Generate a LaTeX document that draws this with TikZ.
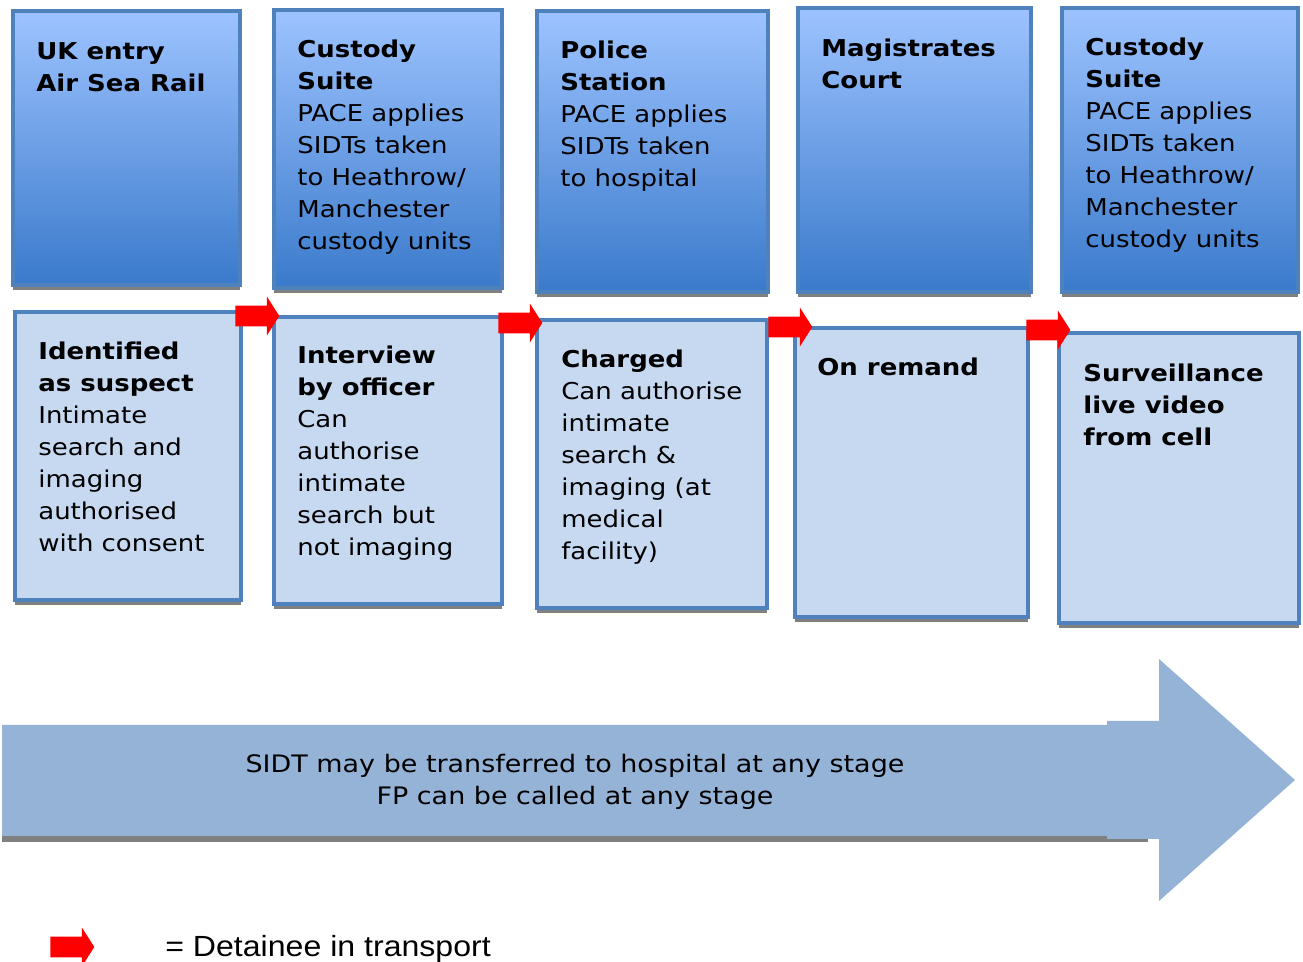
\documentclass[tikz,border=0pt]{standalone}
\usepackage{fontspec}
\setmainfont{DejaVu Sans}[FakeStretch=1.12]
\newfontfamily\legendfont{Liberation Sans}[FakeStretch=1.1]
\usetikzlibrary{shapes.arrows, shadows, fit}
\definecolor{boxline}{RGB}{79,129,189}
\definecolor{boxtop}{RGB}{157,195,255}
\definecolor{boxbottom}{RGB}{58,122,203}
\definecolor{boxpale}{RGB}{198,217,241}
\definecolor{bandblue}{RGB}{149,179,215}
\definecolor{shadowgrey}{RGB}{128,128,128}

\begin{document}
\begin{tikzpicture}
    [
        x=0.02cm, y=-0.02cm,
        place/.style = {draw=boxline, line width=1.9pt, inner sep=0pt, shape=rectangle, drop shadow={shadow xshift=0pt, shadow yshift=-0.11cm, opacity=1, fill=shadowgrey}},
        upper/.style = {place, top color=boxtop, bottom color=boxbottom},
        lower/.style = {place, fill=boxpale},
        info/.style = {anchor=north west, align=left, inner sep=0pt, font=\fontsize{13.2}{18.2}\selectfont},
        transfer/.style = {single arrow, fill=red, draw=none, minimum height=0.88cm, inner xsep=0pt, inner ysep=0.2cm, single arrow head extend=0.18cm, single arrow tip angle=115},
    ]

    \useasboundingbox (0,0) rectangle (1303,962);

    % where the detainee is held
    \node[upper, fit={(13,11) (240,285)}] (entry) {};
    \node[upper, fit={(274,10) (502,288)}] (suite) {};
    \node[upper, fit={(537,11) (768,292)}] (station) {};
    \node[upper, fit={(798,8) (1031,292)}] (court) {};
    \node[upper, fit={(1062,8) (1298,292)}] (suitetwo) {};

    \node[info] (entrytext) at (36,42) {\textbf{UK entry}\\\textbf{Air Sea Rail}};
    \node[info] (suitetext) at (297,40) {\textbf{Custody}\\\textbf{Suite}\\PACE applies\\SIDTs taken\\to Heathrow/\\Manchester\\custody units};
    \node[info] (stationtext) at (560,41) {\textbf{Police}\\\textbf{Station}\\PACE applies\\SIDTs taken\\to hospital};
    \node[info] (courttext) at (821,39) {\textbf{Magistrates}\\\textbf{Court}};
    \node[info] (suitetwotext) at (1085,38) {\textbf{Custody}\\\textbf{Suite}\\PACE applies\\SIDTs taken\\to Heathrow/\\Manchester\\custody units};

    % what may be done there
    \node[lower, fit={(15,312) (241,600)}] (suspect) {};
    \node[lower, fit={(274,317) (502,604)}] (interview) {};
    \node[lower, fit={(537,320) (767,608)}] (charged) {};
    \node[lower, fit={(795,328) (1028,617)}] (remand) {};
    \node[lower, fit={(1059,333) (1299,623)}] (cell) {};

    \node[info] (suspecttext) at (38,342) {\textbf{Identified}\\\textbf{as suspect}\\Intimate\\search and\\imaging\\authorised\\with consent};
    \node[info] (interviewtext) at (297,346) {\textbf{Interview}\\\textbf{by officer}\\Can\\authorise\\intimate\\search but\\not imaging};
    \node[info] (chargedtext) at (561,350) {\textbf{Charged}\\Can authorise\\intimate\\search \&\\imaging (at\\medical\\facility)};
    \node[info] (remandtext) at (817,358) {\textbf{On remand}};
    \node[info] (celltext) at (1083,364) {\textbf{Surveillance}\\\textbf{live video}\\\textbf{from cell}};

    \node[transfer] (move1) at (254,316) {};
    \node[transfer] (move2) at (517,323) {};
    \node[transfer] (move3) at (787,327) {};
    \node[transfer] (move4) at (1045,330) {};

    % any stage
    \fill[shadowgrey] (2,834) rectangle (1148,842);
    \fill[bandblue] (2,725) -- (1107,725) -- (1107,721) -- (1159,721) -- (1159,659) -- (1295,780)
        -- (1159,901) -- (1159,839) -- (1107,839) -- (1107,836) -- (2,836) -- cycle;
    \node[align=center, inner sep=0pt, font=\fontsize{13.7}{18.2}\selectfont] (anystage) at (575,782)
        {SIDT may be transferred to hospital at any stage\\FP can be called at any stage};

    \node[transfer] (movekey) at (69,947) {};
    \node[anchor=base west, inner sep=0pt, font=\legendfont\fontsize{16.6}{20}\selectfont] (keytext) at (165,957) {= Detainee in transport};
\end{tikzpicture}
\end{document}
